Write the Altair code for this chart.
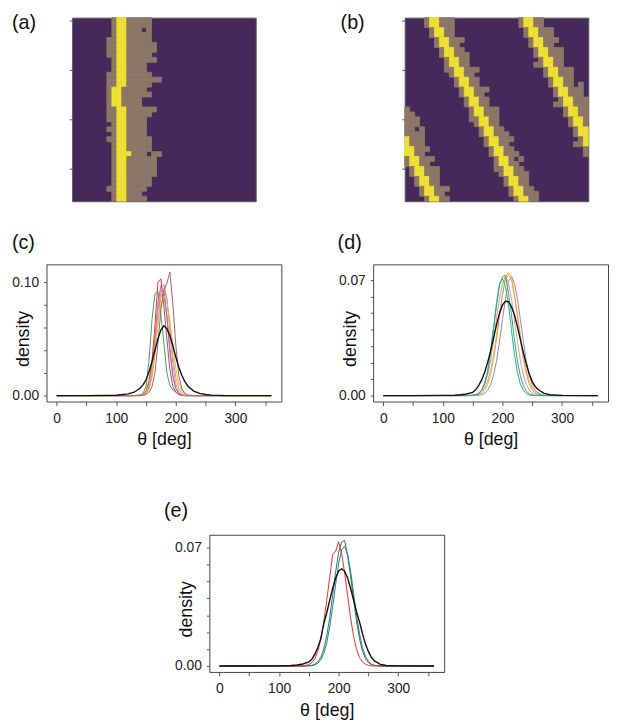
import altair as alt
import pandas as pd

FONT = "Liberation Sans"
DARK, TAUPE, YELLOW = "#46295b", "#8d7767", "#efe033"
CELL_COLORS = [DARK, TAUPE, YELLOW]
N = 37

# ---------- panel (a): per-row extents of the brown band and the yellow column ----------
A_LEFT = [8, 8, 8, 8, 7, 7, 7, 7, 8, 8, 8, 7, 7, 7, 7, 7, 7, 7, 7, 7, 7, 8, 7, 8, 7,
          8, 8, 8, 8, 8, 8, 8, 8, 8, 7, 8, 8]
A_YL = [9, 9, 9, 9, 9, 9, 9, 9, 9, 9, 9, 9, 9, 9, 8, 8, 8, 8, 9, 9, 9, 9, 9, 9, 9,
        9, 9, 9, 9, 9, 9, 9, 9, 9, 9, 9, 9]
A_YR = [10, 10, 10, 10, 10, 10, 10, 10, 10, 10, 10, 10, 10, 10, 9, 9, 9, 9, 10, 10, 10, 10, 10, 10, 10,
        10, 10, 11, 10, 10, 10, 10, 10, 10, 10, 10, 10]
A_RIGHT = [15, 15, 15, 15, 15, 16, 16, 15, 16, 14, 14, 15, 17, 15, 14, 15, 13, 13, 16, 15, 14, 14, 14, 14, 15,
           15, 15, 17, 16, 16, 16, 16, 15, 15, 14, 14, 14]
A_HOLE_R = [2, 27, 35]
A_HOLE_C = [14, 15, 14]

# ---------- panel (b): two diagonal stripes (start column of yellow per row) ----------
B_S1 = [5, 5, 6, 6, 7, 7, 8, 8, 9, 9, 10, 10, 11, 11, 12, 12, 13, 13, 14, 14, 15, 15, 16, 16, 17,
        17, 18, 18, 19, 19, 20, 20, 21, 21, 22, 22, 23]
B_S2 = [24, 24, 25, 25, 26, 26, 27, 27, 28, 28, 29, 29, 30, 30, 31, 31, 32, 32, 33, 33, 34, 34, 35, 35, 36,
        36, 0, 0, 1, 1, 2, 2, 3, 3, 4, 4, 5]
B_L1 = [1, 1, 1, 1, 1, 1, 1, 1, 1, 1, 2, 1, 1, 1, 1, 1, 1, 1, 1, 1, 2, 1, 1, 1, 1,
        1, 1, 1, 1, 1, 2, 1, 1, 1, 1, 1, 1]
B_R1 = [3, 3, 2, 2, 3, 2, 2, 3, 2, 2, 3, 2, 2, 2, 3, 2, 2, 2, 3, 3, 2, 2, 2, 3, 3,
        2, 2, 3, 3, 2, 2, 3, 2, 2, 2, 3, 2]
B_L2 = [1, 1, 1, 1, 1, 1, 1, 1, 1, 2, 1, 1, 1, 1, 1, 1, 1, 2, 1, 1, 1, 1, 1, 1, 1,
        2, 1, 1, 1, 1, 1, 1, 1, 1, 1, 1, 1]
B_R2 = [2, 2, 3, 3, 3, 2, 3, 3, 2, 2, 3, 3, 2, 2, 3, 3, 3, 3, 3, 4, 4, 4, 4, 4, 3,
        3, 3, 2, 3, 2, 3, 3, 2, 2, 3, 2, 2]
B_EXTRA_R, B_EXTRA_C = [13], [35]
B_HOLE_R, B_HOLE_C = [28, 22], [22, 2]

HEAT_LEFT_TICKS = [0.5, 10.5, 20.5, 30.5]

# ---------- panel (c) ----------
TH_C = [0, 50, 100, 120, 130, 140, 145, 150, 155, 160, 165, 170, 175, 180, 185,
        190, 195, 200, 205, 210, 215, 220, 230, 240, 250, 260, 280, 300, 360]
C_BLACK = [0, 0, 0.0003, 0.0015, 0.003, 0.0065, 0.0095, 0.014, 0.021, 0.030,
           0.040, 0.050, 0.058, 0.0615, 0.059, 0.053, 0.044, 0.034, 0.025, 0.018,
           0.0125, 0.0085, 0.004, 0.002, 0.001, 0.0005, 0.0001, 0, 0]
C_GREEN = [0, 0, 0, 0, 0.0001, 0.0006, 0.002, 0.008, 0.031, 0.067,
           0.09, 0.092, 0.071, 0.046, 0.02, 0.009, 0.005, 0.003, 0.001, 0.0003,
           0, 0, 0, 0, 0, 0, 0, 0, 0]
C_RED = [0, 0, 0, 0, 0, 0.0003, 0.001, 0.004, 0.013, 0.031,
         0.062, 0.1, 0.103, 0.078, 0.05, 0.023, 0.008, 0.003, 0.001, 0.0003,
         0, 0, 0, 0, 0, 0, 0, 0, 0]
C_PURPLE = [0, 0, 0, 0, 0, 0.0002, 0.001, 0.003, 0.011, 0.026,
            0.051, 0.082, 0.097, 0.093, 0.071, 0.039, 0.017, 0.006, 0.002, 0.0005,
            0, 0, 0, 0, 0, 0, 0, 0, 0]
C_MAUVE = [0, 0, 0, 0, 0, 0, 0.0003, 0.001, 0.003, 0.008,
           0.02, 0.046, 0.076, 0.093, 0.099, 0.109, 0.081, 0.044, 0.018, 0.006,
           0.002, 0.0005, 0, 0, 0, 0, 0, 0, 0]
C_PINK = [0, 0, 0, 0, 0, 0, 0.0005, 0.002, 0.006, 0.019,
          0.044, 0.076, 0.093, 0.098, 0.086, 0.056, 0.027, 0.01, 0.003, 0.001,
          0.0003, 0, 0, 0, 0, 0, 0, 0, 0]
C_ORANGE = [0, 0, 0, 0, 0, 0.0002, 0.0006, 0.002, 0.006, 0.016,
            0.036, 0.065, 0.087, 0.094, 0.085, 0.061, 0.035, 0.016, 0.006, 0.002,
            0.0006, 0.0002, 0, 0, 0, 0, 0, 0, 0]
C_OLIVE = [0, 0, 0, 0, 0.0001, 0.0003, 0.001, 0.003, 0.009, 0.022,
           0.041, 0.064, 0.081, 0.088, 0.082, 0.066, 0.045, 0.024, 0.011, 0.004,
           0.0015, 0.0005, 0, 0, 0, 0, 0, 0, 0]
C_BLUE = [0, 0, 0, 0, 0, 0, 0.0005, 0.002, 0.007, 0.021,
          0.046, 0.076, 0.093, 0.089, 0.069, 0.041, 0.018, 0.006, 0.002, 0.0005,
          0, 0, 0, 0, 0, 0, 0, 0, 0]

# ---------- panels (d) and (e) ----------
TH_D = [0, 50, 100, 120, 130, 140, 150, 155, 160, 165, 170, 175, 180, 185, 190,
        195, 200, 205, 210, 215, 220, 225, 230, 235, 240, 245, 250, 255, 260, 270,
        280, 300, 360]
D_BLACK = [0, 0, 0.0001, 0.0002, 0.0005, 0.001, 0.002, 0.0035, 0.006, 0.0095,
           0.014, 0.02, 0.027, 0.035, 0.043, 0.05, 0.055, 0.0572, 0.057, 0.054,
           0.049, 0.042, 0.034, 0.026, 0.019, 0.013, 0.0085, 0.0055, 0.0035, 0.0013,
           0.0005, 0.0001, 0]
D_TEAL = [0, 0, 0, 0, 0.0006, 0.0001, 0.0001, 0.0004, 0.0012, 0.0032,
          0.0073, 0.0146, 0.027, 0.0405, 0.056, 0.068, 0.071, 0.066, 0.055, 0.04,
          0.025, 0.014, 0.007, 0.0032, 0.0012, 0.0004, 0.0001, 0, 0, 0,
          0, 0, 0]
D_GREEN = [0, 0, 0, 0, 0, 0, 0.0002, 0.0005, 0.0014, 0.0034,
           0.0072, 0.014, 0.026, 0.041, 0.055, 0.067, 0.072, 0.073, 0.062, 0.049,
           0.034, 0.021, 0.012, 0.006, 0.0027, 0.001, 0.0004, 0, 0, 0,
           0, 0, 0]
D_ORANGE = [0, 0, 0, 0, 0, 0, 0.0001, 0.0002, 0.0006, 0.0014,
            0.0033, 0.0068, 0.013, 0.022, 0.034, 0.048, 0.061, 0.072, 0.0745, 0.0725,
            0.061, 0.048, 0.034, 0.022, 0.013, 0.0068, 0.0033, 0.0014, 0.0006, 0.0001,
            0, 0, 0]
D_PINK = [0, 0, 0, 0, 0, 0, 0.0002, 0.0005, 0.0014, 0.0032,
          0.0066, 0.0124, 0.021, 0.033, 0.047, 0.059, 0.068, 0.0725, 0.068, 0.059,
          0.046, 0.033, 0.021, 0.0124, 0.0066, 0.0032, 0.0014, 0.0005, 0.0002, 0,
          0, 0, 0]
D_PURPLE = [0, 0, 0, 0, 0, 0, 0, 0, 0.0002, 0.0005,
            0.0014, 0.0032, 0.0066, 0.0124, 0.021, 0.033, 0.046, 0.059, 0.069, 0.0725,
            0.068, 0.059, 0.046, 0.033, 0.021, 0.0124, 0.0066, 0.0032, 0.0014, 0.0002,
            0, 0, 0]
D_OLIVE = [0, 0, 0, 0, 0, 0, 0.0001, 0.0004, 0.0009, 0.0022,
           0.0046, 0.0088, 0.0154, 0.0247, 0.0366, 0.0495, 0.0614, 0.07, 0.0735, 0.07,
           0.0614, 0.0495, 0.0366, 0.0247, 0.0154, 0.0088, 0.0046, 0.0022, 0.0009, 0.0001,
           0, 0, 0]

E_RED = [0, 0, 0, 0, 0, 0, 0.0008, 0.002, 0.0043, 0.0087,
         0.0158, 0.026, 0.0388, 0.0525, 0.066, 0.068, 0.0735, 0.0664, 0.0551, 0.0415,
         0.0284, 0.0175, 0.0099, 0.005, 0.0023, 0.001, 0.0004, 0.0001, 0, 0,
         0, 0, 0]
E_GREEN = [0, 0, 0, 0, 0, 0, 0.0001, 0.0004, 0.001, 0.0024,
           0.0051, 0.01, 0.0178, 0.0288, 0.0421, 0.0559, 0.0673, 0.0734, 0.0742, 0.0653,
           0.0532, 0.0393, 0.0263, 0.016, 0.0088, 0.0044, 0.002, 0.0008, 0.0003, 0,
           0, 0, 0]
E_BLUE = [0, 0, 0, 0, 0, 0, 0.0001, 0.0002, 0.0007, 0.0016,
          0.0036, 0.0075, 0.0137, 0.0231, 0.0351, 0.0484, 0.0606, 0.0688, 0.0709, 0.0662,
          0.0561, 0.0431, 0.03, 0.019, 0.0109, 0.0057, 0.0027, 0.0011, 0.0004, 0.0001,
          0, 0, 0]
E_BLACK = [0, 0, 0.0001, 0.0003, 0.0006, 0.0012, 0.0025, 0.004, 0.007, 0.011,
           0.0162, 0.025, 0.0315, 0.039, 0.046, 0.052, 0.0562, 0.0575, 0.056, 0.052,
           0.046, 0.039, 0.032, 0.026, 0.019, 0.013, 0.0085, 0.005, 0.003, 0.001,
           0.0003, 0.0001, 0]

C_SERIES = [(C_GREEN, "#3aa84a"), (C_BLUE, "#6d84cc"), (C_PURPLE, "#9a70c0"),
            (C_RED, "#e0353a"), (C_PINK, "#e58ac5"), (C_ORANGE, "#f39a3b"),
            (C_OLIVE, "#d2c53a"), (C_MAUVE, "#a65d75")]
D_SERIES = [(D_OLIVE, "#cfc24a"), (D_PURPLE, "#a07cc8"), (D_PINK, "#e58ac5"),
            (D_ORANGE, "#f0a040"), (D_GREEN, "#3aa84a"), (D_TEAL, "#20b0a0")]
E_SERIES = [(E_BLUE, "#2f6fc0"), (E_GREEN, "#24803c"), (E_RED, "#e8302a")]


def grid_a():
    g = []
    for r in range(N):
        row = [0] * N
        for c in range(A_LEFT[r], A_RIGHT[r] + 1):
            row[c] = 1
        for c in range(A_YL[r], A_YR[r] + 1):
            row[c] = 2
        g.append(row)
    for r, c in zip(A_HOLE_R, A_HOLE_C):
        g[r][c] = 0
    return g


def grid_b():
    g = [[0] * N for _ in range(N)]
    for r in range(N):
        for s, lw, rw in ((B_S1[r], B_L1[r], B_R1[r]), (B_S2[r], B_L2[r], B_R2[r])):
            for k in range(-lw, 0):
                g[r][(s + k) % N] = 1
            for k in range(2, 2 + rw):
                g[r][(s + k) % N] = 1
            g[r][s % N] = 2
            g[r][(s + 1) % N] = 2
    for r, c in zip(B_EXTRA_R, B_EXTRA_C):
        g[r][c] = 1
    for r, c in zip(B_HOLE_R, B_HOLE_C):
        g[r][c] = 0
    return g


def heat_df(g):
    # dark cells are the view background; only the lit cells are drawn
    rows = []
    for r in range(N):
        for c in range(N):
            if g[r][c] > 0:
                rows.append({"r": r, "r2": r + 1, "c": c, "c2": c + 1, "col": CELL_COLORS[g[r][c]]})
    return pd.DataFrame(rows)


def label_layer(text, x, y):
    return alt.Chart(pd.DataFrame({"t": [text]})).mark_text(
        align="left", baseline="top", fontSize=20, font=FONT, color="#111"
    ).encode(x=alt.value(x), y=alt.value(y), text="t:N")


def anchor_layer(x, y):
    # invisible helper that only reserves layout room
    return alt.Chart(pd.DataFrame({"t": [0]})).mark_rule(opacity=0, strokeWidth=1).encode(
        x=alt.value(x), y=alt.value(y), y2=alt.value(y + 1))


def spacer(w):
    # invisible horizontal gap of w pixels
    return alt.Chart(pd.DataFrame({"t": [0]})).mark_rule(opacity=0, strokeWidth=1).encode(
        x=alt.value(0), x2=alt.value(w), y=alt.value(0)
    ).properties(width=w, height=1, view=alt.ViewBackground(stroke="transparent"))


def heatmap(g, label, lx):
    rects = alt.Chart(heat_df(g)).mark_rect(strokeWidth=0.8).encode(
        x=alt.X("c:Q", scale=alt.Scale(domain=[0, N], nice=False, zero=False), axis=None),
        x2="c2:Q",
        y=alt.Y("r:Q", scale=alt.Scale(domain=[0, N], nice=False, zero=False, reverse=True),
                axis=alt.Axis(values=HEAT_LEFT_TICKS, labels=False, domain=False,
                              ticks=True, tickSize=3, grid=False, title=None)),
        y2="r2:Q",
        color=alt.Color("col:N", scale=None, legend=None),
        stroke=alt.Stroke("col:N", scale=None, legend=None),
    )
    return alt.layer(rects, label_layer(label, lx, -4)).properties(
        width=186, height=186,
        view=alt.ViewBackground(fill=DARK, stroke="#555", strokeWidth=1))


def density(theta, series, black, ymax_dom, ymin_dom, yticks, ytop, label, lx, ly, extra=None):
    rows = []
    for i, (vals, colr) in enumerate(series):
        for t, v in zip(theta, vals):
            rows.append({"theta": t, "density": v, "sid": i, "col": colr})
    df = pd.DataFrame(rows)
    bdf = pd.DataFrame({"theta": theta, "density": black})
    xenc = alt.X("theta:Q", scale=alt.Scale(domain=[-17, 377], nice=False, zero=False),
                 axis=alt.Axis(values=list(range(0, 351, 50)),
                               labelExpr="datum.value % 100 === 0 ? datum.label : ''",
                               title="θ [deg]", tickSize=4, labelPadding=6, titlePadding=6,
                               domain=False, grid=False))
    yenc = alt.Y("density:Q", scale=alt.Scale(domain=[ymin_dom, ymax_dom], nice=False, zero=False),
                 axis=alt.Axis(values=yticks,
                               labelExpr=f"datum.value < 0.0001 || datum.value > {ytop} ? format(datum.value, '.2f') : ''",
                               title="density", titleAngle=270, titleX=-14, titleY=75,
                               titleBaseline="bottom", titleAlign="center",
                               tickSize=3, labelPadding=5, domain=False, grid=False))
    colored = alt.Chart(df).mark_line(strokeWidth=1).encode(
        x=xenc, y=yenc,
        color=alt.Color("col:N", scale=None, legend=None),
        detail="sid:N",
    )
    blk = alt.Chart(bdf).mark_line(strokeWidth=1.4, color="#111").encode(x=xenc, y=yenc)
    layers = [colored, blk, label_layer(label, lx, ly)]
    if extra is not None:
        layers.append(anchor_layer(*extra))
    return alt.layer(*layers).properties(
        width=238, height=139, view=alt.ViewBackground(stroke="#444", strokeWidth=1))


pa = heatmap(grid_a(), "(a)", -61)
pb = heatmap(grid_b(), "(b)", -65)
pc = density(TH_C, C_SERIES, C_BLACK, 0.1157, -0.0052,
             [0, 0.02, 0.04, 0.06, 0.08, 0.1], 0.0999, "(c)", -35, -32)
pd_ = density(TH_D, D_SERIES, D_BLACK, 0.0796, -0.0036,
              [0, 0.01, 0.02, 0.03, 0.04, 0.05, 0.06, 0.07], 0.0699, "(d)", -36, -32)
pe = density(TH_D, E_SERIES, E_BLACK, 0.0776, -0.0035,
             [0, 0.01, 0.02, 0.03, 0.04, 0.05, 0.06, 0.07], 0.0699, "(e)", -46, -34,
             extra=(-46, -55))

row1 = alt.hconcat(spacer(1), pa, spacer(82), pb, spacing=0)
row2 = alt.hconcat(spacer(1), pc, spacer(53), pd_, spacing=0)
row3 = alt.hconcat(spacer(155), pe, spacing=0)

chart = alt.vconcat(row1, row2, row3, spacing=30).properties(
    padding=0, background="white"
).configure(font=FONT).configure_axis(
    labelFont=FONT, labelFontSize=14, labelColor="#222", tickColor="#555", tickWidth=1,
    titleFont=FONT, titleFontSize=18, titleFontWeight="normal", titleColor="#111"
)

chart.save("out.html", embed_options={"renderer": "svg", "actions": False})
